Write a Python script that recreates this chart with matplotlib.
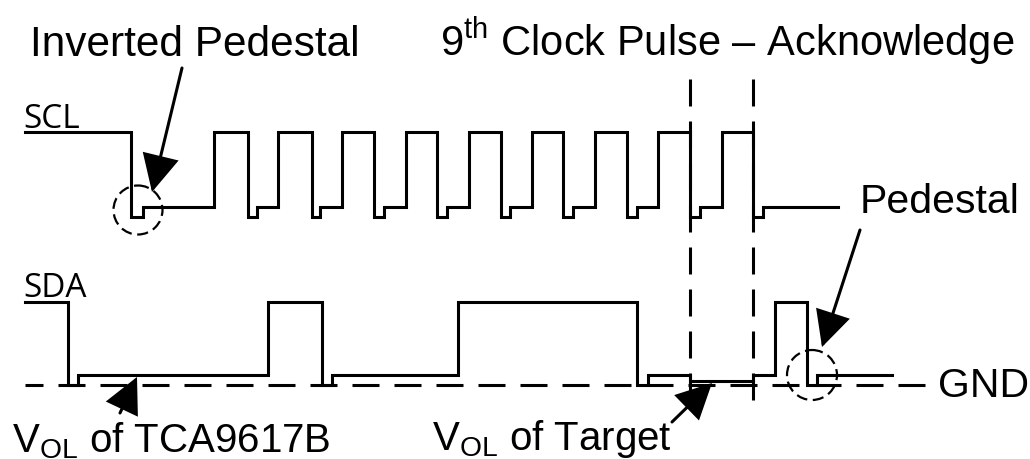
import matplotlib
matplotlib.use("Agg")
import matplotlib.pyplot as plt
from matplotlib.patches import Circle, FancyArrowPatch, ArrowStyle

plt.rcParams['lines.scale_dashes'] = False
plt.rcParams['mathtext.fontset'] = 'custom'
plt.rcParams['mathtext.rm'] = 'Liberation Sans'
plt.rcParams['mathtext.it'] = 'Liberation Sans:italic'

# ---- data (pixel-space timing diagram) ----
# SCL levels
SCL_HIGH, SCL_LOW, SCL_PED = 132, 207, 217
scl_edges = [25, 131, 143, 214, 248, 257, 278, 312, 320, 342, 374, 384, 406, 437, 447,
             469, 501, 510, 532, 563, 573, 595, 627, 637, 658, 690, 700, 722, 753, 763, 838]
scl_levels = ['H', 'P', 'L', 'H', 'P', 'L', 'H', 'P', 'L', 'H', 'P', 'L', 'H', 'P', 'L',
              'H', 'P', 'L', 'H', 'P', 'L', 'H', 'P', 'L', 'H', 'P', 'L', 'H', 'P', 'L', 'L']

# SDA levels
SDA_HIGH, SDA_VOL_TCA, SDA_VOL_TGT, GND = 302, 375, 381, 385
sda_edges = [25, 68, 78, 268, 322, 332, 458, 637, 648, 690, 753, 775, 807, 817, 892]
sda_levels = ['H', 'G', 'V', 'H', 'G', 'V', 'H', 'G', 'V', 'T', 'V', 'H', 'G', 'V', 'V']

gnd_span = [25, 925]
ack_lines_x = [690, 753]
ack_lines_y = [79, 400]

scl_map = {'H': SCL_HIGH, 'L': SCL_LOW, 'P': SCL_PED}
sda_map = {'H': SDA_HIGH, 'V': SDA_VOL_TCA, 'T': SDA_VOL_TGT, 'G': GND}

W, H = 1030, 459
fig = plt.figure(figsize=(W / 100, H / 100), dpi=100)
ax = fig.add_axes([0, 0, 1, 1])
ax.set_xlim(0, W)
ax.set_ylim(H, 0)
ax.axis('off')

LW = 2.2
px = 0.72  # points per pixel at dpi 100

ax.step(scl_edges, [scl_map[v] for v in scl_levels], where='post', color='black', lw=LW,
        solid_joinstyle='miter')
ax.step(sda_edges, [sda_map[v] for v in sda_levels], where='post', color='black', lw=LW,
        solid_joinstyle='miter')

# GND dashed line
ax.plot(gnd_span, [GND, GND], color='black', lw=LW,
        ls=(9 * px, (27 * px, 15 * px)), dash_capstyle='butt')
# acknowledge dashed verticals
for xv in ack_lines_x:
    ax.plot([xv, xv], ack_lines_y, color='black', lw=LW,
            ls=(0, (27 * px, 15 * px)), dash_capstyle='butt')

# dashed circles
for (cx, cy, r) in [(138, 210, 24.5), (812, 375, 25)]:
    ax.add_patch(Circle((cx, cy), r, fill=False, ec='black', lw=1.6,
                        ls=(0, (8, 4))))

# arrows
def arrow(x0, y0, x1, y1, hl=23, hw=11.5):
    st = ArrowStyle('-|>', head_length=hl, head_width=hw)
    ax.add_patch(FancyArrowPatch((x0, y0), (x1, y1), arrowstyle=st, mutation_scale=1,
                                 shrinkA=0, shrinkB=0, color='black', lw=LW,
                                 joinstyle='miter'))

arrow(182, 68, 152, 192)
arrow(860, 230, 822, 347, hl=22, hw=11)
arrow(120, 413, 137, 377, hl=22, hw=11)
arrow(672, 422, 712, 383, hl=22, hw=11)

tf = dict(family='Liberation Sans', color='black', va='baseline', ha='left')
ax.text(30, 56, 'Inverted Pedestal', size=30.5, **tf)
ax.text(440, 56, r'$\mathregular{9^{th}}$ Clock Pulse – Acknowledge', size=30, **tf)
ax.text(860, 213, 'Pedestal', size=29.5, **tf)
ax.text(938, 397, 'GND', size=29.5, **tf)
ax.text(12, 452, r'$\mathregular{V_{OL}}$ of TCA9617B', size=29, **tf)
ax.text(432, 450, r'$\mathregular{V_{OL}}$ of Target', size=29, **tf)

lf = dict(family='Open Sans', size=24, color='black', va='baseline', ha='left')
ax.text(23, 128, 'SCL', **lf)
ax.text(23, 297, 'SDA', **lf)

fig.savefig('out.png', dpi=100)
